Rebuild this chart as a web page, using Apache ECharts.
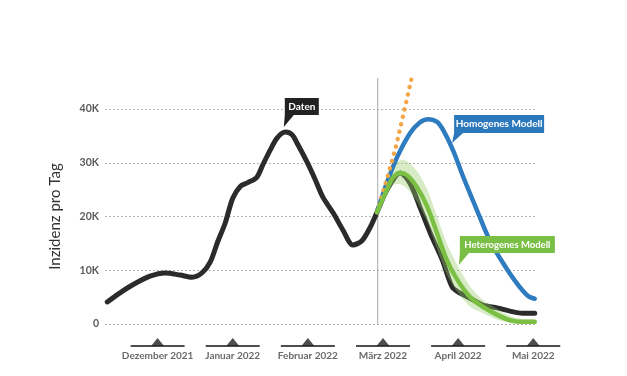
<!DOCTYPE html>
<html>
<head>
<meta charset="utf-8">
<script src="https://cdn.jsdelivr.net/npm/echarts@6/dist/echarts.min.js"></script>
<style>
  html, body { margin: 0; padding: 0; background: #fff; }
  #chart { width: 627px; height: 376px; }
</style>
</head>
<body>
<div id="chart"></div>
<script>
// x in months: 0 = Dezember 2021 ... 5 = Mai 2022
const months = ['Dezember 2021', 'Januar 2022', 'Februar 2022', 'März 2022', 'April 2022', 'Mai 2022']
const monthPos = [0, 1, 2, 3, 4, 5]
const yTicks = [0, 10000, 20000, 30000, 40000]

// Daten (gemeldete Inzidenz)
const datenX = [-0.67, -0.5, -0.33, -0.1, 0.1, 0.3, 0.46, 0.59, 0.7, 0.8, 0.9, 1.0, 1.1, 1.2, 1.32, 1.4, 1.5, 1.59, 1.7, 1.79, 1.87, 1.99, 2.1, 2.2, 2.34, 2.47, 2.6, 2.72, 2.83, 2.92, 3.05, 3.23, 3.36, 3.49, 3.63, 3.79, 3.92, 4.02, 4.16, 4.33, 4.52, 4.69, 4.86, 5.02]
const datenY = [4100, 5800, 7300, 8900, 9500, 9100, 8700, 9500, 11500, 15300, 18800, 23400, 25600, 26300, 27300, 29600, 32400, 34600, 35700, 35200, 33300, 30100, 26800, 23600, 20600, 17400, 14700, 15500, 18000, 20800, 24900, 28100, 26200, 21800, 16900, 11900, 6900, 5800, 4800, 3500, 3000, 2400, 2000, 2000]

// Homogenes Modell
const homX = [2.92, 3.05, 3.19, 3.36, 3.49, 3.6, 3.72, 3.8, 3.93, 4.07, 4.25, 4.42, 4.6, 4.78, 4.93, 5.02]
const homY = [20800, 26200, 31100, 35500, 37500, 38100, 37600, 36100, 32400, 27300, 21200, 15600, 11300, 7600, 5200, 4700]

// Heterogenes Modell mit Unsicherheitsband
const hetX = [2.92, 3.05, 3.13, 3.23, 3.32, 3.45, 3.59, 3.72, 3.85, 3.99, 4.16, 4.33, 4.52, 4.69, 4.86, 5.02]
const hetY = [20800, 24900, 27200, 28100, 27700, 25500, 21800, 16900, 11900, 8200, 5000, 3200, 1700, 700, 400, 400]
const hetLow = [20800, 24000, 25800, 26000, 25200, 22800, 19000, 14000, 9200, 6000, 3200, 2000, 800, 300, 100, 100]
const hetHigh = [20800, 26000, 29200, 30500, 30300, 28500, 25000, 20000, 15000, 11000, 7000, 4500, 2800, 1500, 900, 800]

// Exponentielle Projektion
const expX = [2.92, 3.03, 3.16, 3.27, 3.39]
const expY = [20800, 25900, 32400, 38900, 46300]

// heutiger Stand (senkrechte Linie)
const todayX = 2.93
const todayY = [0, 45800]

const font = 'Lato'

const pairs = (xs, ys) => xs.map((x, i) => [x, ys[i]])

function callout(text, tip, color, w, h, t, d, fs) {
  return {
    coord: tip,
    symbol: `path://M${d},0 H${d + w} V${h} H${d + 9} L0,${h + t} L${d},${h} Z`,
    symbolSize: [d + w, h + t],
    symbolKeepAspect: false,
    symbolOffset: [(d + w) / 2, -(h + t) / 2],
    itemStyle: { color: color },
    label: {
      show: true,
      position: 'inside',
      offset: [d / 2, -t / 2],
      formatter: text,
      overflow: 'none',
      color: '#fff',
      fontFamily: font,
      fontWeight: 'bold',
      fontSize: fs
    }
  }
}

const lineBase = { type: 'line', smooth: 0.3, symbol: 'none' }

const chart = echarts.init(document.getElementById('chart'), null, { renderer: 'canvas' })

const option = {
  animation: false,
  backgroundColor: '#fff',
  grid: { left: 105, right: 90, top: 109, bottom: 52 },
  xAxis: {
    type: 'value',
    min: -0.7,
    max: 5.05,
    show: false
  },
  yAxis: {
    type: 'value',
    min: 0,
    max: 40000,
    interval: 10000,
    name: 'Inzidenz pro Tag',
    nameLocation: 'middle',
    nameGap: 42,
    nameTextStyle: { fontFamily: font, fontSize: 15, color: '#333' },
    axisLine: { show: false },
    axisTick: { show: false },
    axisLabel: {
      margin: 6,
      fontFamily: font,
      fontSize: 10.5,
      fontWeight: 'bold',
      color: '#5a5a5a',
      formatter: v => (yTicks.includes(v) ? (v === 0 ? '0' : v / 1000 + 'K') : '')
    },
    splitLine: { lineStyle: { type: [2, 2], color: '#b5b5b5', width: 1 } }
  },
  series: [
    {
      // senkrechte Linie
      type: 'line',
      data: [[todayX, todayY[0]], [todayX, todayY[1]]],
      clip: false,
      symbol: 'none',
      lineStyle: { color: '#aaa', width: 1 },
      z: 1
    },
    {
      ...lineBase,
      name: 'Daten',
      data: pairs(datenX, datenY),
      lineStyle: { color: '#2b2b2b', width: 5, cap: 'round' },
      markPoint: { data: [callout('Daten', [1.68, 36640], '#222', 34, 17, 12, 1, 10)] },
      z: 3
    },
    {
      ...lineBase,
      name: 'Homogenes Modell',
      data: pairs(homX, homY),
      lineStyle: { color: '#2e7bbf', width: 4.5, cap: 'round' },
      markPoint: { data: [callout('Homogenes Modell', [3.92, 33660], '#2c78bd', 90, 18, 10, 2, 10)] },
      z: 4
    },
    {
      // Unsicherheitsband
      type: 'custom',
      name: 'Band',
      data: [0],
      renderItem: (params, api) => {
        const top = hetX.map((x, i) => api.coord([x, hetHigh[i]]))
        const bottom = hetX.map((x, i) => api.coord([x, hetLow[i]])).reverse()
        return {
          type: 'polygon',
          shape: { points: top.concat(bottom), smooth: 0.25 },
          style: { fill: 'rgba(150, 205, 105, 0.38)' }
        }
      },
      silent: true,
      z: 4
    },
    {
      ...lineBase,
      name: 'Heterogenes Modell',
      data: pairs(hetX, hetY),
      lineStyle: { color: '#7cc043', width: 4.5, cap: 'round' },
      markPoint: { data: [callout('Heterogenes Modell', [4.01, 10970], '#7abf45', 95, 17, 12, 1, 9.5)] },
      z: 5
    },
    {
      ...lineBase,
      name: 'Exponentielle Projektion',
      data: pairs(expX, expY),
      clip: false,
      lineStyle: { color: '#f2a645', width: 4.5, type: [0.1, 7.5], cap: 'round' },
      markPoint: { data: [callout('Exponentielle Projektion', [3.39, 46870], '#f3a743', 113, 18, 9, 1, 9)] },
      z: 4
    },
    {
      // Monatsleiste unter der Achse
      type: 'scatter',
      data: monthPos.map((m, i) => ({ value: [m, -4100], name: months[i] })),
      clip: false,
      symbol: 'rect',
      symbolSize: [54, 2],
      itemStyle: { color: '#222' },
      label: {
        show: true,
        position: 'bottom',
        distance: 4,
        formatter: p => p.name,
        fontFamily: font,
        fontSize: 10,
        fontWeight: 'bold',
        color: '#444'
      },
      silent: true,
      z: 2
    },
    {
      type: 'scatter',
      data: monthPos.map(m => [m, -3350]),
      clip: false,
      symbol: 'triangle',
      symbolSize: [13, 8],
      itemStyle: { color: '#222' },
      silent: true,
      z: 2
    }
  ]
}

chart.setOption(option)
</script>
</body>
</html>
